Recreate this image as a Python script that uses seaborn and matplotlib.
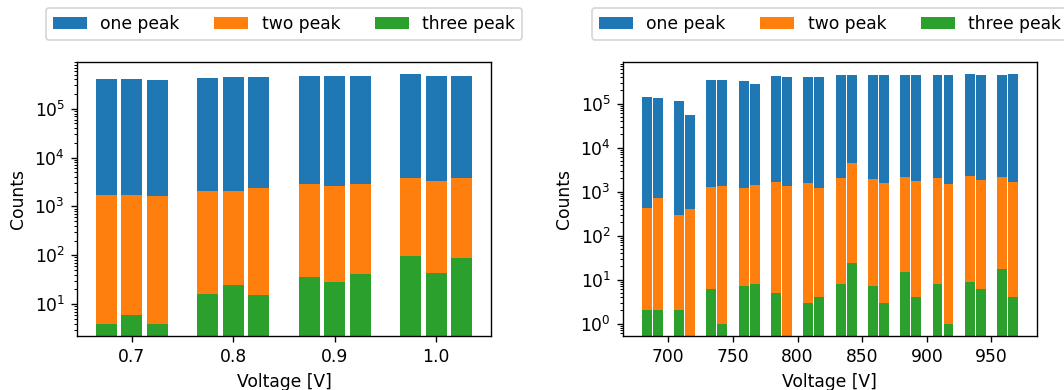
import numpy as np
import pandas as pd
import matplotlib
matplotlib.use("Agg")
import matplotlib.pyplot as plt
import seaborn as sns

# Low-voltage scan: three runs per setting
low_voltage = [0.7, 0.8, 0.9, 1.0]
low_one_peak = [3.99e5, 4.0e5, 3.8e5, 4.2e5, 4.4e5, 4.4e5,
                4.6e5, 4.6e5, 4.6e5, 5.05e5, 4.8e5, 4.8e5]
low_two_peak = [1750, 1750, 1670, 2110, 2110, 2350,
                2940, 2670, 2940, 3900, 3380, 3900]
low_three_peak = [4, 6, 4, 16, 25, 15, 36, 29, 42, 98, 44, 89]

# High-voltage scan: two runs per setting
high_voltage = [687.5, 712.5, 737.5, 762.5, 787.5, 812.5,
                837.5, 862.5, 887.5, 912.5, 937.5, 962.5]
high_one_peak = [1.39e5, 1.32e5, 1.13e5, 5.4e4, 3.4e5, 3.4e5,
                 3.2e5, 2.75e5, 4.2e5, 3.96e5, 3.96e5, 3.96e5,
                 4.4e5, 4.4e5, 4.4e5, 4.4e5, 4.4e5, 4.4e5,
                 4.4e5, 4.4e5, 4.6e5, 4.4e5, 4.4e5, 4.6e5]
high_two_peak = [417, 705, 289, 396, 1250, 1320,
                 1190, 1390, 1620, 1320, 1545, 1190,
                 2000, 4400, 1900, 1560, 2110, 1710,
                 2000, 1470, 2230, 1800, 2110, 1620]
high_three_peak = [2, 2, 2, 0, 6, 1,
                   7, 8, 5, 0, 3, 4,
                   8, 24, 7, 3, 15, 4,
                   8, 1, 9, 6, 17, 4]

series_labels = ["one peak", "two peak", "three peak"]
colors = ["#1f77b4", "#ff7f0e", "#2ca02c"]


def run_positions(centers, offsets):
    return np.round([c + o for c in centers for o in offsets], 6)


def draw_panel(ax, x, series, width):
    ax.set_yscale("log")
    for values, label, color in zip(series, series_labels, colors):
        df = pd.DataFrame({"Voltage": x, "Counts": values})
        sns.barplot(data=df, x="Voltage", y="Counts", native_scale=True,
                    width=width, color=color, saturation=1,
                    errorbar=None, label=label, ax=ax)
    ax.set_xlabel("Voltage [V]")
    ax.set_ylabel("Counts")
    ax.legend(loc="lower center", bbox_to_anchor=(0.5, 1.05), ncol=3)


dpi = 123
fig = plt.figure(figsize=(1064 / dpi, 390 / dpi), dpi=dpi)
ax_low = fig.add_axes([0.0724, 0.1385, 0.389, 0.7026])
ax_high = fig.add_axes([0.5855, 0.1385, 0.389, 0.7026])

with np.errstate(divide="ignore"):
    draw_panel(ax_low, run_positions(low_voltage, [-0.025, 0.0, 0.025]),
               [low_one_peak, low_two_peak, low_three_peak], 0.83)
    draw_panel(ax_high, run_positions(high_voltage, [-4.25, 4.25]),
               [high_one_peak, high_two_peak, high_three_peak], 0.9)

fig.savefig("out.png", dpi=dpi)
